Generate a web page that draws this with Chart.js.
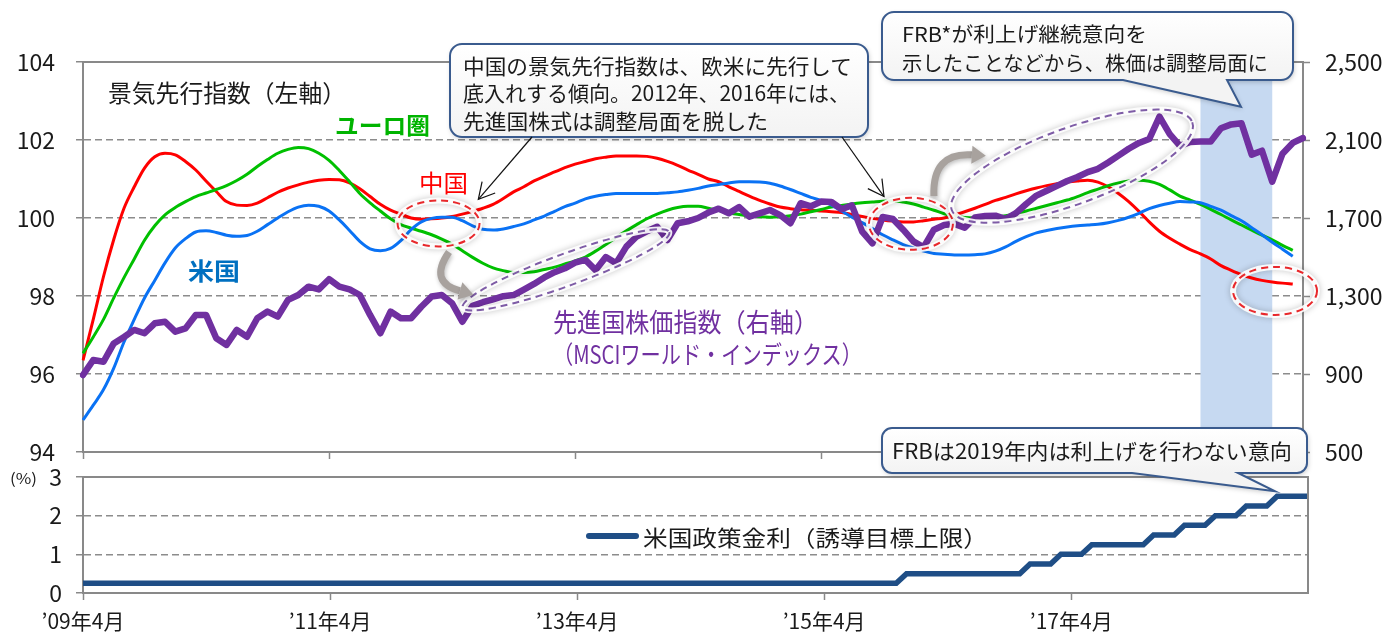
<!DOCTYPE html>
<html>
<head>
<meta charset="utf-8">
<script src="https://cdn.jsdelivr.net/npm/chart.js@4.4.1/dist/chart.umd.min.js"></script>
<style>
html,body{margin:0;padding:0;background:#ffffff;}
#wrap{position:relative;width:1385px;height:634px;overflow:hidden;background:#fff;}
#wrap canvas{position:absolute;left:0;top:0;}
#overlay{position:absolute;left:0;top:0;width:1385px;height:634px;pointer-events:none;}
.t{position:absolute;white-space:nowrap;line-height:1;font-family:"Noto Sans CJK JP","Noto Sans",sans-serif;transform-origin:0 50%;}
</style>
</head>
<body>
<div id="wrap">
  <canvas id="cTop" width="1385" height="634"></canvas>
  <canvas id="cBot" width="1385" height="634"></canvas>
  <div id="overlay"></div>
</div>
<script>
// ---------------- DATA ----------------
const months = [
"’09年4月","’09年5月","’09年6月","’09年7月","’09年8月","’09年9月","’09年10月","’09年11月","’09年12月",
"’10年1月","’10年2月","’10年3月","’10年4月","’10年5月","’10年6月","’10年7月","’10年8月","’10年9月","’10年10月","’10年11月","’10年12月",
"’11年1月","’11年2月","’11年3月","’11年4月","’11年5月","’11年6月","’11年7月","’11年8月","’11年9月","’11年10月","’11年11月","’11年12月",
"’12年1月","’12年2月","’12年3月","’12年4月","’12年5月","’12年6月","’12年7月","’12年8月","’12年9月","’12年10月","’12年11月","’12年12月",
"’13年1月","’13年2月","’13年3月","’13年4月","’13年5月","’13年6月","’13年7月","’13年8月","’13年9月","’13年10月","’13年11月","’13年12月",
"’14年1月","’14年2月","’14年3月","’14年4月","’14年5月","’14年6月","’14年7月","’14年8月","’14年9月","’14年10月","’14年11月","’14年12月",
"’15年1月","’15年2月","’15年3月","’15年4月","’15年5月","’15年6月","’15年7月","’15年8月","’15年9月","’15年10月","’15年11月","’15年12月",
"’16年1月","’16年2月","’16年3月","’16年4月","’16年5月","’16年6月","’16年7月","’16年8月","’16年9月","’16年10月","’16年11月","’16年12月",
"’17年1月","’17年2月","’17年3月","’17年4月","’17年5月","’17年6月","’17年7月","’17年8月","’17年9月","’17年10月","’17年11月","’17年12月",
"’18年1月","’18年2月","’18年3月","’18年4月","’18年5月","’18年6月","’18年7月","’18年8月","’18年9月","’18年10月","’18年11月","’18年12月",
"’19年1月","’19年2月","’19年3月"
];
const tickLabels = ["’09年4月","’11年4月","’13年4月","’15年4月","’17年4月"];
const shadePeriod = ["’18年5月","’18年12月"];

// 景気先行指数 (left axis)
const china = [
96.35,97.4,98.5,99.45,100.25,100.8,101.28,101.57,101.66,101.62,
101.45,101.23,100.95,100.68,100.42,100.33,100.32,100.38,100.52,100.66,
100.77,100.85,100.92,100.97,100.99,100.98,100.9,100.75,100.55,100.35,
100.2,100.1,100.0,99.97,99.98,100.0,100.04,100.1,100.17,100.25,
100.35,100.5,100.67,100.8,100.95,101.07,101.18,101.29,101.38,101.45,
101.52,101.56,101.59,101.59,101.59,101.58,101.53,101.45,101.35,101.23,
101.12,101.0,100.93,100.8,100.68,100.56,100.45,100.36,100.28,100.24,
100.21,100.2,100.18,100.16,100.14,100.09,100.04,99.99,99.95,99.92,
99.9,99.9,99.93,99.97,100.0,100.08,100.16,100.25,100.35,100.45,
100.53,100.62,100.7,100.77,100.83,100.88,100.92,100.95,100.97,100.92,
100.8,100.63,100.42,100.17,99.9,99.66,99.48,99.33,99.19,99.08,
98.95,98.78,98.66,98.55,98.46,98.4,98.36,98.33,98.31,null
];
const euro = [
96.53,96.95,97.4,97.95,98.47,98.95,99.43,99.8,100.08,100.27,
100.42,100.55,100.64,100.73,100.83,100.96,101.12,101.32,101.5,101.66,
101.76,101.81,101.78,101.66,101.48,101.22,100.93,100.63,100.39,100.18,
99.98,99.83,99.74,99.66,99.57,99.46,99.33,99.16,98.99,98.84,
98.72,98.65,98.6,98.6,98.62,98.68,98.74,98.82,98.9,99.0,
99.15,99.32,99.5,99.67,99.83,99.98,100.1,100.2,100.27,100.3,
100.3,100.25,100.19,100.13,100.09,100.05,100.03,100.02,100.03,100.06,
100.1,100.16,100.22,100.28,100.32,100.36,100.39,100.41,100.43,100.44,
100.41,100.36,100.28,100.2,100.11,100.05,100.01,100.0,100.01,100.03,
100.06,100.12,100.18,100.25,100.32,100.39,100.46,100.55,100.65,100.74,
100.83,100.9,100.95,100.97,100.94,100.86,100.72,100.56,100.46,100.35,
100.22,100.09,99.95,99.82,99.69,99.56,99.44,99.3,99.17,null
];
const us = [
94.82,95.2,95.6,96.15,96.82,97.4,97.95,98.4,98.85,99.23,
99.47,99.64,99.67,99.63,99.56,99.53,99.55,99.66,99.83,100.0,
100.16,100.28,100.33,100.3,100.18,99.95,99.68,99.4,99.21,99.16,
99.22,99.42,99.7,99.9,99.99,100.02,100.02,99.93,99.8,99.71,
99.69,99.72,99.78,99.85,99.95,100.05,100.17,100.29,100.38,100.49,
100.56,100.6,100.63,100.63,100.63,100.63,100.63,100.65,100.67,100.71,
100.76,100.82,100.86,100.9,100.93,100.93,100.92,100.89,100.82,100.73,
100.63,100.53,100.45,100.33,100.18,100.02,99.88,99.73,99.57,99.44,
99.32,99.23,99.15,99.09,99.07,99.05,99.05,99.06,99.08,99.15,
99.26,99.4,99.52,99.62,99.68,99.73,99.77,99.8,99.82,99.84,
99.88,99.94,100.02,100.12,100.24,100.32,100.38,100.42,100.41,100.39,
100.3,100.2,100.06,99.93,99.75,99.57,99.38,99.2,99.02,null
];
// 先進国株価指数 MSCI World (right axis)
const msci = [
895,972,963,1057,1090,1126,1109,1160,1168,1117,
1134,1203,1203,1083,1049,1126,1091,1186,1220,1194,
1280,1305,1348,1334,1386,1348,1334,1305,1203,1109,
1220,1186,1186,1245,1297,1305,1263,1168,1250,1268,
1283,1299,1305,1333,1362,1395,1422,1442,1471,1485,
1433,1500,1468,1553,1605,1632,1655,1587,1673,1683,
1700,1728,1748,1724,1756,1707,1724,1741,1715,1673,
1776,1760,1784,1782,1745,1765,1630,1570,1705,1695,
1640,1580,1550,1640,1664,1670,1650,1703,1710,1712,
1695,1725,1772,1815,1840,1865,1890,1910,1935,1952,
1985,2020,2055,2085,2105,2220,2130,2070,2090,2092,
2092,2160,2180,2186,2025,2045,1886,2030,2085,2110
];
// 米国政策金利（誘導目標上限）%
const fedRate = [
0.25,0.25,0.25,0.25,0.25,0.25,0.25,0.25,0.25,0.25,
0.25,0.25,0.25,0.25,0.25,0.25,0.25,0.25,0.25,0.25,
0.25,0.25,0.25,0.25,0.25,0.25,0.25,0.25,0.25,0.25,
0.25,0.25,0.25,0.25,0.25,0.25,0.25,0.25,0.25,0.25,
0.25,0.25,0.25,0.25,0.25,0.25,0.25,0.25,0.25,0.25,
0.25,0.25,0.25,0.25,0.25,0.25,0.25,0.25,0.25,0.25,
0.25,0.25,0.25,0.25,0.25,0.25,0.25,0.25,0.25,0.25,
0.25,0.25,0.25,0.25,0.25,0.25,0.25,0.25,0.25,0.25,
0.5,0.5,0.5,0.5,0.5,0.5,0.5,0.5,0.5,0.5,
0.5,0.5,0.75,0.75,0.75,1.0,1.0,1.0,1.25,1.25,
1.25,1.25,1.25,1.25,1.5,1.5,1.5,1.75,1.75,1.75,
2.0,2.0,2.0,2.25,2.25,2.25,2.5,2.5,2.5,2.5
];

// ---------------- STYLE ----------------
const FONT = '"Noto Sans CJK JP","Noto Sans",sans-serif';
const AXIS = '#898989';
const GRID = '#8C8C8C';
const LABEL = '#1A1A1A';
Chart.defaults.font.family = FONT;
Chart.defaults.color = LABEL;

function tickMarkColor(c){
  return (c.tick && tickLabels.includes(c.tick.label)) ? AXIS : 'rgba(0,0,0,0)';
}
function onlyMajor(v){
  const l = this.getLabelForValue(v);
  return tickLabels.includes(l) ? l : '';
}

// ---------------- DRAW HELPERS ----------------
function calloutShape(ctx, b, tail){
  const {x,y,w,h,r} = b;
  ctx.save();
  ctx.beginPath();
  ctx.moveTo(x+r, y);
  ctx.lineTo(x+w-r, y);
  ctx.arcTo(x+w, y, x+w, y+r, r);
  ctx.lineTo(x+w, y+h-r);
  ctx.arcTo(x+w, y+h, x+w-r, y+h, r);
  if (tail){
    ctx.lineTo(tail.c, y+h);
    ctx.lineTo(tail.tx, tail.ty);
    ctx.lineTo(tail.a, y+h);
  }
  ctx.lineTo(x+r, y+h);
  ctx.arcTo(x, y+h, x, y+h-r, r);
  ctx.lineTo(x, y+r);
  ctx.arcTo(x, y, x+r, y, r);
  ctx.closePath();
  ctx.shadowColor = 'rgba(0,0,0,0.22)';
  ctx.shadowBlur = 5; ctx.shadowOffsetX = 1; ctx.shadowOffsetY = 2;
  const g = ctx.createLinearGradient(0, y, 0, y+h);
  g.addColorStop(0, '#FFFFFF'); g.addColorStop(1, '#F3F3F3');
  ctx.fillStyle = g;
  ctx.fill();
  ctx.shadowColor = 'rgba(0,0,0,0)';
  ctx.lineWidth = 2; ctx.strokeStyle = '#3A5B8E';
  ctx.stroke();
  ctx.restore();
}
function dashedEllipse(ctx, cx, cy, rx, ry, rot, color){
  ctx.save();
  ctx.beginPath();
  ctx.ellipse(cx, cy, rx, ry, rot, 0, Math.PI*2);
  ctx.shadowColor = 'rgba(0,0,0,0.25)'; ctx.shadowBlur = 6;
  ctx.strokeStyle = 'rgba(255,255,255,0.9)'; ctx.lineWidth = 6; ctx.stroke();
  ctx.shadowColor = 'rgba(0,0,0,0)';
  ctx.setLineDash([7,5]);
  ctx.strokeStyle = color; ctx.lineWidth = 2;
  ctx.stroke();
  ctx.restore();
}
function grayArrow(ctx, p0, p1, p2){
  ctx.save();
  ctx.shadowColor = 'rgba(0,0,0,0.25)'; ctx.shadowBlur = 4; ctx.shadowOffsetX = 1; ctx.shadowOffsetY = 2;
  ctx.strokeStyle = '#A8A29E'; ctx.lineWidth = 7;
  ctx.beginPath(); ctx.moveTo(p0.x, p0.y); ctx.quadraticCurveTo(p1.x, p1.y, p2.x, p2.y); ctx.stroke();
  const a = Math.atan2(p2.y - p1.y, p2.x - p1.x);
  const L = 14, W = 9;
  ctx.fillStyle = '#A8A29E';
  ctx.beginPath();
  ctx.moveTo(p2.x + Math.cos(a)*L, p2.y + Math.sin(a)*L);
  ctx.lineTo(p2.x + Math.cos(a+Math.PI/2)*W, p2.y + Math.sin(a+Math.PI/2)*W);
  ctx.lineTo(p2.x - Math.cos(a+Math.PI/2)*W, p2.y - Math.sin(a+Math.PI/2)*W);
  ctx.closePath(); ctx.fill();
  ctx.restore();
}
function lineArrow(ctx, from, tip){
  ctx.save();
  ctx.strokeStyle = '#111'; ctx.lineWidth = 1.2;
  ctx.beginPath(); ctx.moveTo(from.x, from.y); ctx.lineTo(tip.x, tip.y); ctx.stroke();
  const a = Math.atan2(tip.y - from.y, tip.x - from.x);
  const L = 18, s = 0.5;
  ctx.beginPath();
  ctx.moveTo(tip.x - Math.cos(a - s)*L, tip.y - Math.sin(a - s)*L);
  ctx.lineTo(tip.x, tip.y);
  ctx.lineTo(tip.x - Math.cos(a + s)*L, tip.y - Math.sin(a + s)*L);
  ctx.stroke();
  ctx.restore();
}

// ---------------- TOP PANEL DECORATIONS ----------------
const topDecor = {
  id: 'topDecor',
  beforeDatasetsDraw(chart){
    const {ctx, chartArea: ca, scales} = chart;
    const x = scales.x;
    const i0 = months.indexOf(shadePeriod[0]), i1 = months.indexOf(shadePeriod[1]);
    const xa = x.getPixelForValue(i0), xb = x.getPixelForValue(i1);
    ctx.save();
    ctx.fillStyle = '#C6D9F1';
    ctx.fillRect(xa, ca.top, xb - xa, ca.bottom - ca.top);
    ctx.strokeStyle = AXIS; ctx.lineWidth = 2;
    ctx.beginPath(); ctx.moveTo(ca.left, ca.top); ctx.lineTo(ca.right, ca.top); ctx.stroke();
    ctx.restore();
  },
  afterDatasetsDraw(chart){
    const {ctx, scales} = chart;
    const P = (i, v) => ({x: scales.x.getPixelForValue(i), y: scales.y.getPixelForValue(v)});
    // dashed ellipses
    let c;
    c = P(34.68, 99.86); dashedEllipse(ctx, c.x, c.y, 41, 23, 0, '#E8282B');
    c = P(80.76, 99.85); dashedEllipse(ctx, c.x, c.y, 42, 26, 0, '#E8282B');
    c = P(116.27, 98.13); dashedEllipse(ctx, c.x, c.y, 42, 24, 0, '#E8282B');
    c = P(47.11, 98.67); dashedEllipse(ctx, c.x, c.y, 110, 16, -0.35, '#7E5CA6');
    c = P(96.47, 101.33); dashedEllipse(ctx, c.x, c.y, 128, 38, -0.35, '#7E5CA6');
    // gray curved arrows
    grayArrow(ctx, P(35.7, 99.13), P(33.65, 98.36), P(36.77, 98.13));
    grayArrow(ctx, P(83.0, 100.56), P(82.81, 101.69), P(86.7, 101.62));
    // callout 1 with arrows
    calloutShape(ctx, {x:450, y:44, w:418, h:93, r:12}, null);
    lineArrow(ctx, {x:532, y:137}, P(38.56, 100.48));
    lineArrow(ctx, {x:842, y:137}, P(78.13, 100.55));
    // callout 2
    const t2 = P(112.95, 102.85);
    calloutShape(ctx, {x:882, y:12, w:411, h:68, r:12}, {a:1123, c:1227, tx:t2.x, ty:t2.y});
  }
};

// ---------------- BOTTOM PANEL DECORATIONS ----------------
const botDecor = {
  id: 'botDecor',
  afterDatasetsDraw(chart){
    const {ctx, chartArea: ca, scales} = chart;
    ctx.save();
    ctx.strokeStyle = AXIS; ctx.lineWidth = 2;
    ctx.beginPath();
    ctx.moveTo(ca.left, ca.top); ctx.lineTo(ca.right, ca.top); ctx.lineTo(ca.right, ca.bottom);
    ctx.stroke();
    // legend sample
    const ds = chart.data.datasets[0];
    ctx.strokeStyle = ds.borderColor; ctx.lineWidth = 6; ctx.lineCap = 'round';
    ctx.beginPath(); ctx.moveTo(589, 536); ctx.lineTo(636, 536); ctx.stroke();
    ctx.restore();
    // callout 3
    const tip = {x: scales.x.getPixelForValue(115.8), y: scales.y.getPixelForValue(2.63)};
    calloutShape(ctx, {x:882, y:428, w:425, h:45, r:10}, {a:1132, c:1238, tx:tip.x, ty:tip.y});
  }
};

// ---------------- CHARTS ----------------
const topChart = new Chart(document.getElementById('cTop'), {
  type: 'line',
  data: {
    labels: months,
    datasets: [
      {label:'先進国株価指数（右軸）', data: msci, yAxisID:'y2', borderColor:'#7030A0', backgroundColor:'#7030A0',
       borderWidth:6.5, pointRadius:0, tension:0, borderJoinStyle:'round', borderCapStyle:'round'},
      {label:'米国', data: us, yAxisID:'y', borderColor:'#0A72F4', borderWidth:3, pointRadius:0, cubicInterpolationMode:'monotone'},
      {label:'ユーロ圏', data: euro, yAxisID:'y', borderColor:'#00C000', borderWidth:3, pointRadius:0, cubicInterpolationMode:'monotone'},
      {label:'中国', data: china, yAxisID:'y', borderColor:'#FF0000', borderWidth:3, pointRadius:0, cubicInterpolationMode:'monotone'}
    ]
  },
  options: {
    responsive:false, animation:false, devicePixelRatio:1, events:[],
    layout:{padding:{top:62, bottom:172, left:0, right:0}},
    plugins:{legend:{display:false}, tooltip:{enabled:false}},
    scales:{
      x:{
        type:'category', offset:false,
        grid:{drawOnChartArea:false, drawTicks:true, tickLength:7, tickWidth:1.5, tickColor:tickMarkColor},
        border:{display:true, color:AXIS, width:2},
        ticks:{display:false, autoSkip:false, maxRotation:0, callback:onlyMajor},
        afterFit(s){ s.height = 10; }
      },
      y:{
        position:'left', min:94, max:104,
        ticks:{stepSize:2, padding:21, color:LABEL, font:{size:23}},
        grid:{color:GRID, lineWidth:1.5, tickLength:7, tickColor:AXIS, tickWidth:1.5, borderDash:[7,4]},
        border:{display:true, color:AXIS, width:2, dash:[7,4]},
        afterFit(s){ s.width = 83; }
      },
      y2:{
        position:'right', min:500, max:2500,
        ticks:{stepSize:400, padding:15, color:LABEL, font:{size:23}},
        grid:{drawOnChartArea:false, tickLength:7, tickColor:AXIS, tickWidth:1.5},
        border:{display:true, color:AXIS, width:2},
        afterFit(s){ s.width = 82; }
      }
    }
  },
  plugins:[topDecor]
});

const botChart = new Chart(document.getElementById('cBot'), {
  type: 'line',
  data: {
    labels: months,
    datasets: [
      {label:'米国政策金利（誘導目標上限）', data: fedRate, borderColor:'#1F4E86', borderWidth:5.5, pointRadius:0, tension:0}
    ]
  },
  options: {
    responsive:false, animation:false, devicePixelRatio:1, events:[],
    layout:{padding:{top:477, bottom:0, left:0, right:77}},
    plugins:{legend:{display:false}, tooltip:{enabled:false}},
    scales:{
      x:{
        type:'category', offset:false,
        grid:{drawOnChartArea:false, drawTicks:true, tickLength:7, tickWidth:1.5, tickColor:tickMarkColor},
        border:{display:true, color:AXIS, width:2},
        ticks:{autoSkip:false, maxRotation:0, minRotation:0, padding:8, color:LABEL, font:{size:21}, callback:onlyMajor},
        afterFit(s){ s.height = 41; }
      },
      y:{
        position:'left', min:0, max:3,
        ticks:{stepSize:1, padding:14, color:LABEL, font:{size:23}},
        grid:{color:GRID, lineWidth:1.5, tickLength:7, tickColor:AXIS, tickWidth:1.5, borderDash:[7,4]},
        border:{display:true, color:AXIS, width:2, dash:[7,4]},
        afterFit(s){ s.width = 83; }
      }
    }
  },
  plugins:[botDecor]
});

// ---------------- TEXT OVERLAYS (real text) ----------------
const notes = [
  {text:'景気先行指数（左軸）', x:108, y:92, size:24, color:'#1A1A1A', w:238},
  {text:'ユーロ圏', x:335, y:124, size:23, color:'#00B400', w:95, bold:true},
  {text:'中国', x:419, y:182, size:24, color:'#FF0000', w:49},
  {text:'米国', x:188, y:270, size:24, color:'#0070C0', w:52, bold:true},
  {text:'先進国株価指数（右軸）', x:553, y:321, size:26, color:'#7030A0', w:265},
  {text:'（MSCIワールド・インデックス）', x:553, y:353, size:25, color:'#7030A0', w:309},
  {text:'中国の景気先行指数は、欧米に先行して', x:463, y:65, size:21, color:'#1A1A1A', w:389},
  {text:'底入れする傾向。2012年、2016年には、', x:463, y:92, size:21, color:'#1A1A1A', w:387},
  {text:'先進国株式は調整局面を脱した', x:463, y:120, size:21, color:'#1A1A1A', w:305},
  {text:'FRB*が利上げ継続意向を', x:902, y:33, size:20.5, color:'#1A1A1A', w:245},
  {text:'示したことなどから、株価は調整局面に', x:902, y:62, size:20.5, color:'#1A1A1A', w:366},
  {text:'FRBは2019年内は利上げを行わない意向', x:892, y:450, size:21, color:'#1A1A1A', w:400},
  {text:'(%)', x:10, y:477, size:15, color:'#1A1A1A', w:27},
  {text: botChart.data.datasets[0].label, x:643, y:536, size:22, color:'#1A1A1A', w:345}
];
const overlay = document.getElementById('overlay');
notes.forEach(n => {
  const d = document.createElement('div');
  d.className = 't';
  d.textContent = n.text;
  d.style.left = n.x + 'px';
  d.style.top = n.y + 'px';
  d.style.fontSize = n.size + 'px';
  d.style.color = n.color;
  d.style.fontWeight = n.bold ? '700' : '400';
  overlay.appendChild(d);
  const w = d.getBoundingClientRect().width;
  const s = (n.w && w) ? n.w / w : 1;
  d.style.transform = 'translateY(-50%) scaleX(' + s.toFixed(4) + ')';
});
</script>
</body>
</html>
